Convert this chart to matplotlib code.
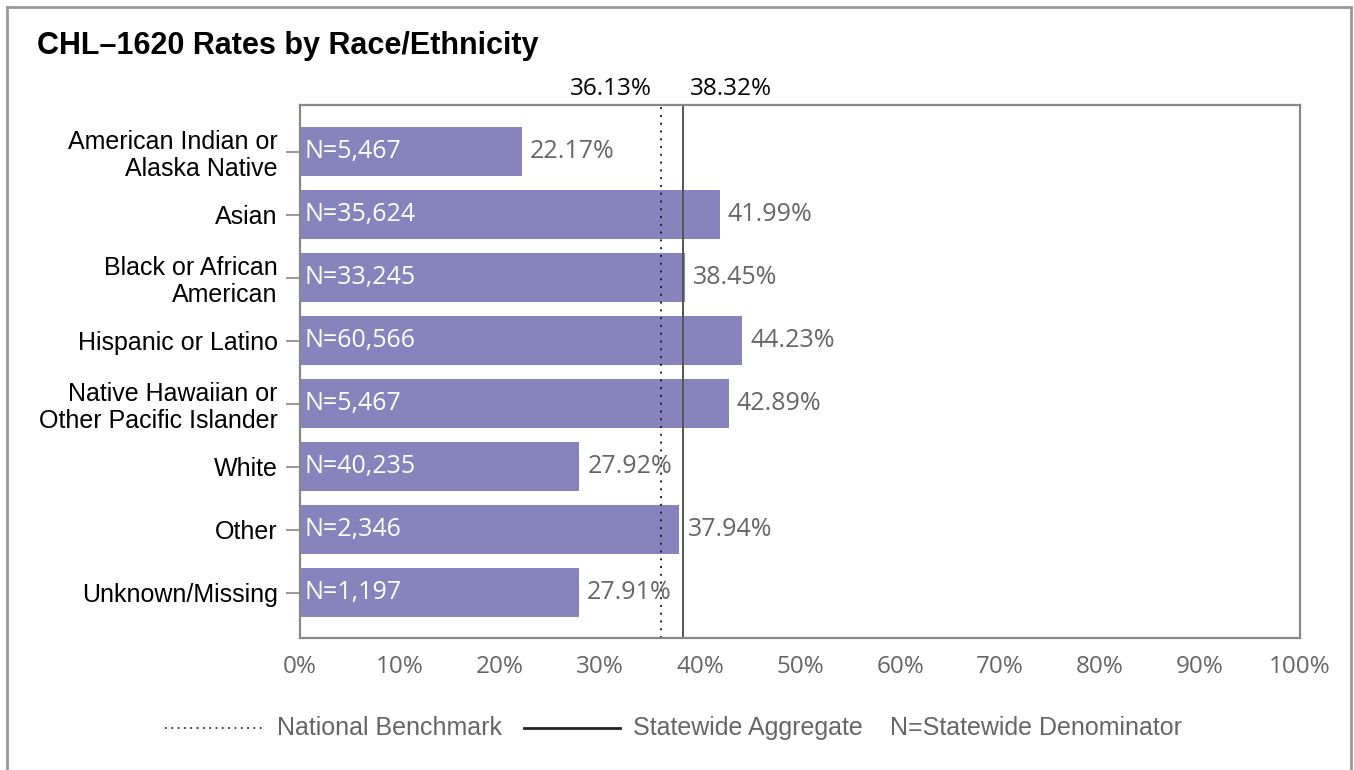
import matplotlib.pyplot as plt
from matplotlib.lines import Line2D

categories = ['American Indian or\nAlaska Native', 'Asian', 'Black or African\nAmerican',
              'Hispanic or Latino', 'Native Hawaiian or\nOther Pacific Islander', 'White',
              'Other', 'Unknown/Missing']
rates = [22.17, 41.99, 38.45, 44.23, 42.89, 27.92, 37.94, 27.91]
denoms = ['5,467', '35,624', '33,245', '60,566', '5,467', '40,235', '2,346', '1,197']
national = 36.13
statewide = 38.32
xticks = [0, 10, 20, 30, 40, 50, 60, 70, 80, 90, 100]

plt.rcParams['font.family'] = ['Open Sans', 'DejaVu Sans']
arial = ['Liberation Sans', 'DejaVu Sans']

fig = plt.figure(figsize=(13.54, 7.7), dpi=100)
ax = fig.add_axes([0.2216, 0.1714, 0.7386, 0.6922])

ypos = list(range(len(categories)))
ax.barh(ypos, rates, height=0.78, color='#8784bd')
for y, r, n in zip(ypos, rates, denoms):
    ax.text(0.4, y, f'N={n}', color='white', fontsize=18, va='center', ha='left')
    ax.text(r + 0.8, y, f'{r:.2f}%', color='#666666', fontsize=18, va='center', ha='left')

ax.axvline(national, color='#222222', linestyle=(0, (1, 3)), linewidth=1.4)
ax.axvline(statewide, color='#555555', linewidth=1.4)
ax.text(national - 0.9, -0.8, f'{national:.2f}%', fontsize=17.5, ha='right', va='bottom')
ax.text(statewide + 0.7, -0.8, f'{statewide:.2f}%', fontsize=17.5, ha='left', va='bottom')

ax.set_xlim(0, 100)
ax.set_ylim(7.72, -0.74)
ax.set_xticks(xticks)
ax.set_xticklabels([f'{t}%' for t in xticks], color='#666666', fontsize=17.5)
ax.set_yticks(ypos)
ax.set_yticklabels(categories, fontsize=18, linespacing=1.15, family=arial)
ax.tick_params(axis='x', length=0, pad=12)
ax.tick_params(axis='y', length=10, width=1.2, color='#888888', pad=6)
for s in ax.spines.values():
    s.set_color('#888888')
    s.set_linewidth(1.6)

fig.text(0.027, 0.94, 'CHL\u20131620 Rates by Race/Ethnicity', fontsize=22, fontweight='bold',
         family=arial, va='center')

# outer frame (top, left, right)
for xs, ys in [([0.005, 0.998], [0.991, 0.991]), ([0.005, 0.005], [0.0, 0.991]),
               ([0.998, 0.998], [0.0, 0.991])]:
    fig.add_artist(Line2D(xs, ys, color='#999999', linewidth=2))

# legend
ly = 1 - 728 / 770
fig.add_artist(Line2D([165 / 1354, 262 / 1354], [ly, ly], color='#333333',
                      linestyle=(0, (1, 2.5)), linewidth=1.3))
fig.text(277 / 1354, ly, 'National Benchmark', fontsize=18, color='#666666', va='center',
         family=arial)
fig.add_artist(Line2D([524 / 1354, 620 / 1354], [ly, ly], color='#222222', linewidth=2))
fig.text(633 / 1354, ly, 'Statewide Aggregate', fontsize=18, color='#666666', va='center',
         family=arial)
fig.text(890 / 1354, ly, 'N=Statewide Denominator', fontsize=18, color='#666666', va='center',
         family=arial)

fig.savefig('out.png', dpi=100)
plt.close(fig)
